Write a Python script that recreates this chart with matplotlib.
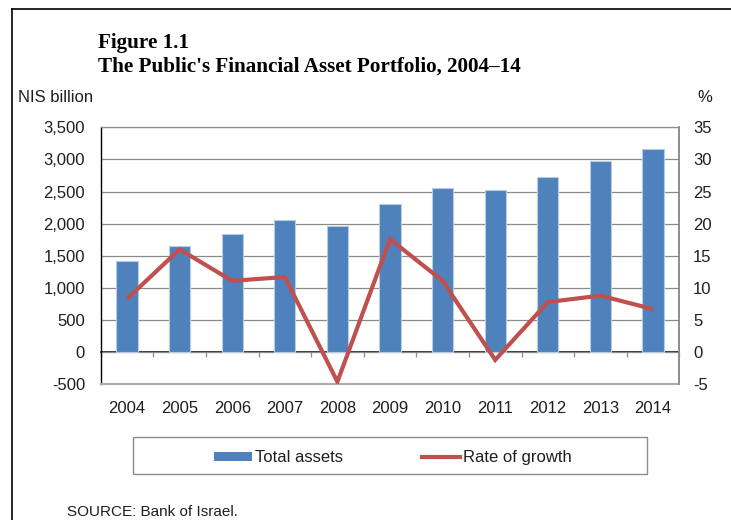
import matplotlib
matplotlib.use("Agg")
import matplotlib.pyplot as plt
from matplotlib.lines import Line2D
from matplotlib.patches import Rectangle, Patch
import numpy as np

# Data
years = ["2004", "2005", "2006", "2007", "2008", "2009", "2010", "2011", "2012", "2013", "2014"]
total_assets = [1417, 1651, 1832, 2050, 1963, 2299, 2559, 2528, 2726, 2969, 3167]   # NIS billion
growth_rate = [8.3, 16.0, 11.1, 11.7, -4.6, 17.6, 11.1, -1.2, 7.8, 8.8, 6.7]        # percent

left_ticks = [-500, 0, 500, 1000, 1500, 2000, 2500, 3000, 3500]
left_tick_labels = ["-500", "0", "500", "1,000", "1,500", "2,000", "2,500", "3,000", "3,500"]
right_ticks = [-5, 0, 5, 10, 15, 20, 25, 30, 35]
right_tick_labels = ["-5", "0", "5", "10", "15", "20", "25", "30", "35"]

BAR_BLUE = "#4F81BD"
LINE_RED = "#C0504D"
GRID = "#8A8A8A"
TEXT = "#1e1e1e"

plt.rcParams["font.family"] = ["Liberation Sans", "DejaVu Sans"]
plt.rcParams["axes.unicode_minus"] = False

fig = plt.figure(figsize=(7.31, 5.20), dpi=100)
fig.patch.set_facecolor("white")

W, H = 731.0, 520.0
ax = fig.add_axes([100.7 / W, 1 - 384.3 / H, 578.6 / W, 257.0 / H])

x = np.arange(len(years))

# Bars on the left axis
ax.bar(x, total_assets, width=0.4, color=BAR_BLUE, edgecolor="#B7CBE6",
       linewidth=0.8, zorder=3)
ax.set_xlim(-0.5, len(years) - 0.5)
ax.set_ylim(-500, 3500)
ax.set_yticks(left_ticks)
ax.set_yticklabels(left_tick_labels)
ax.yaxis.grid(True, color=GRID, linewidth=0.9, zorder=0)
ax.set_axisbelow(True)
ax.tick_params(axis="y", length=0, pad=11.3, labelsize=12, labelcolor=TEXT)
ax.set_xticks(x)
ax.set_xticklabels(years)
ax.tick_params(axis="x", length=0, pad=11.8, labelsize=12, labelcolor=TEXT)

ax.spines["left"].set_color("black")
ax.spines["left"].set_linewidth(1.0)
ax.spines["top"].set_color("#8C8C8C")
ax.spines["top"].set_linewidth(0.9)
ax.spines["right"].set_color("#8C8C8C")
ax.spines["right"].set_linewidth(1.2)
ax.spines["bottom"].set_color("#ABABAB")
ax.spines["bottom"].set_linewidth(1.5)

# Zero line with category-boundary ticks
zero_frac = (0 - (-500)) / 4000.0
zax = ax.secondary_xaxis(zero_frac)
zax.set_xticks(np.arange(-0.5, len(years), 1.0))
zax.set_xticklabels([])
zax.tick_params(axis="x", direction="out", length=3.5, width=0.9, color="#8C8C8C")
zax.spines["bottom"].set_color("black")
zax.spines["bottom"].set_linewidth(1.1)

# Growth line on the right axis
ax2 = ax.twinx()
ax2.plot(x, growth_rate, color=LINE_RED, linewidth=3.0, solid_joinstyle="miter",
         solid_capstyle="butt", zorder=4)
ax2.set_ylim(-5, 35)
ax2.set_yticks(right_ticks)
ax2.set_yticklabels(right_tick_labels)
ax2.tick_params(axis="y", length=0, pad=9.9, labelsize=12, labelcolor=TEXT)
for side in ("left", "top", "bottom"):
    ax2.spines[side].set_visible(False)
ax2.spines["right"].set_color("#8C8C8C")
ax2.spines["right"].set_linewidth(1.2)

# Titles and axis units
fig.text(98 / W, 1 - 43 / H, "Figure 1.1", family=["Liberation Serif", "DejaVu Serif"],
         weight="bold", fontsize=15.2, ha="left", va="center", color="black")
fig.text(98 / W, 1 - 67 / H, "The Public's Financial Asset Portfolio, 2004\u201314",
         family=["Liberation Serif", "DejaVu Serif"], weight="bold", fontsize=15.2,
         ha="left", va="center", color="black")
fig.text(18 / W, 1 - 98 / H, "NIS billion", fontsize=12, ha="left", va="center", color=TEXT)
fig.text(704.5 / W, 1 - 98 / H, "%", fontsize=12, ha="center", va="center", color=TEXT)

# Legend with its own frame
handles = [Patch(facecolor=BAR_BLUE, edgecolor="none"),
           Line2D([], [], color=LINE_RED, linewidth=3.0)]
labels = ["Total assets", "Rate of growth"]
fig.legend(handles, labels, loc="center", bbox_to_anchor=(0.5375, 1 - 457.5 / H),
           ncol=2, frameon=False, fontsize=12, handlelength=2.3, handleheight=0.46,
           handletextpad=0.2, columnspacing=4.7, labelcolor=TEXT)
fig.add_artist(Rectangle((133.3 / W, 1 - 474.3 / H), (646.7 - 133.3) / W, 37.6 / H,
                         transform=fig.transFigure, fill=False, edgecolor="#8C8C8C",
                         linewidth=1.0))

fig.text(66.7 / W, 1 - 512.5 / H, "SOURCE: Bank of Israel.", fontsize=11,
         ha="left", va="center", color=TEXT)

# Outer frame (left and top edges)
fig.add_artist(Line2D([12.3 / W, 12.3 / W], [0, 1 - 9.3 / H], transform=fig.transFigure,
                      color="black", linewidth=1.2))
fig.add_artist(Line2D([12.3 / W, 1.0], [1 - 9.3 / H, 1 - 9.3 / H], transform=fig.transFigure,
                      color="black", linewidth=1.2))

fig.savefig("out.png", dpi=100, facecolor="white")
